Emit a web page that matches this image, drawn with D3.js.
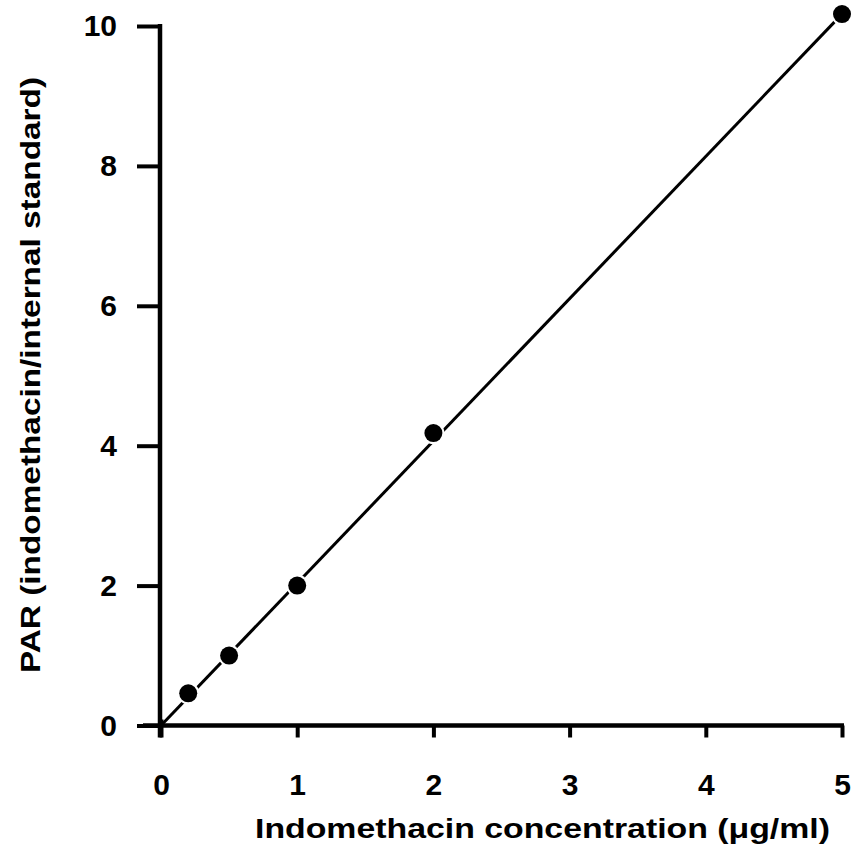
<!DOCTYPE html>
<html>
<head>
<meta charset="utf-8">
<script src="https://cdn.jsdelivr.net/npm/d3@7"></script>
<style>
  html, body { margin: 0; padding: 0; background: #fff; }
  svg { display: block; }
  text { font-family: "Liberation Sans", Arial, Helvetica, sans-serif; font-weight: bold; fill: #000; }
</style>
</head>
<body>
<svg id="chart" width="853" height="865"></svg>
<script>
// Calibration data: indomethacin concentration vs peak-area ratio
const concentrations = [0.2, 0.5, 1, 2, 5];
const parValues = [0.46, 1.0, 2.0, 4.18, 10.17];

// Fitted calibration line (end points)
const fitConc = [0, 5];
const fitPar = [0, 10.17];

const xTickValues = [0, 1, 2, 3, 4, 5];
const yTickValues = [0, 2, 4, 6, 8, 10];

const xTitle = "Indomethacin concentration (\u03bcg/ml)";
const yTitle = "PAR (indomethacin/internal standard)";

const svg = d3.select("#chart");

const x = d3.scaleLinear().domain([0, 5]).range([161, 842]);
const y = d3.scaleLinear().domain([0, 10]).range([725.5, 26]);

// Axis ticks and labels
const yAxis = d3.axisLeft(y)
  .tickValues(yTickValues)
  .tickSize(23)
  .tickSizeOuter(0)
  .tickPadding(20)
  .tickFormat(d3.format("d"));

const xAxis = d3.axisBottom(x)
  .tickValues(xTickValues)
  .tickSize(12)
  .tickSizeOuter(0)
  .tickPadding(38)
  .tickFormat(d3.format("d"));

const gy = svg.append("g").attr("transform", `translate(${x(0) - 1},0)`).call(yAxis);
const gx = svg.append("g").attr("transform", `translate(0,${y(0)})`).call(xAxis);

[gy, gx].forEach(g => {
  g.select(".domain").remove();
  g.selectAll(".tick line").attr("stroke", "#000").attr("stroke-width", 4);
  g.selectAll(".tick text")
    .attr("fill", "#000")
    .style("font-size", "30px")
    .style("font-family", "'Liberation Sans', Arial, sans-serif")
    .style("font-weight", "bold");
});
gy.selectAll(".tick text").attr("x", -43);
gx.selectAll(".tick text").attr("y", 48).attr("dy", "0.71em");
// the origin tick also crosses above the axis
gx.selectAll(".tick line").attr("y1", d => d === 0 ? -6 : 0);

// Axis lines
svg.append("line")
  .attr("x1", x(0) - 1).attr("x2", x(0) - 1)
  .attr("y1", y(10) - 2).attr("y2", y(0) + 12)
  .attr("stroke", "#000").attr("stroke-width", 4.5);
svg.append("line")
  .attr("x1", x(0) - 18).attr("x2", x(5) + 2)
  .attr("y1", y(0)).attr("y2", y(0))
  .attr("stroke", "#000").attr("stroke-width", 4.5);

// Regression line
const fitData = fitConc.map((c, i) => ({ c, p: fitPar[i] }));
svg.append("path")
  .datum(fitData)
  .attr("fill", "none")
  .attr("stroke", "#000")
  .attr("stroke-width", 3)
  .attr("d", d3.line().x(d => x(d.c)).y(d => y(d.p)));

// Data points, each with a thin white halo that breaks the line
const points = concentrations.map((c, i) => ({ c, p: parValues[i] }));
svg.append("g").selectAll("circle.halo")
  .data(points).join("circle")
  .attr("cx", d => x(d.c)).attr("cy", d => y(d.p))
  .attr("r", 11).attr("fill", "#fff");
svg.append("g").selectAll("circle.dot")
  .data(points).join("circle")
  .attr("cx", d => x(d.c)).attr("cy", d => y(d.p))
  .attr("r", 9).attr("fill", "#000");

// Axis titles
svg.append("text")
  .attr("x", 255).attr("y", 838)
  .attr("textLength", 575).attr("lengthAdjust", "spacingAndGlyphs")
  .style("font-size", "28px")
  .text(xTitle);

svg.append("text")
  .attr("transform", "translate(40,673) rotate(-90)")
  .attr("x", 0).attr("y", 0)
  .attr("textLength", 596).attr("lengthAdjust", "spacingAndGlyphs")
  .style("font-size", "28px")
  .text(yTitle);
</script>
</body>
</html>
